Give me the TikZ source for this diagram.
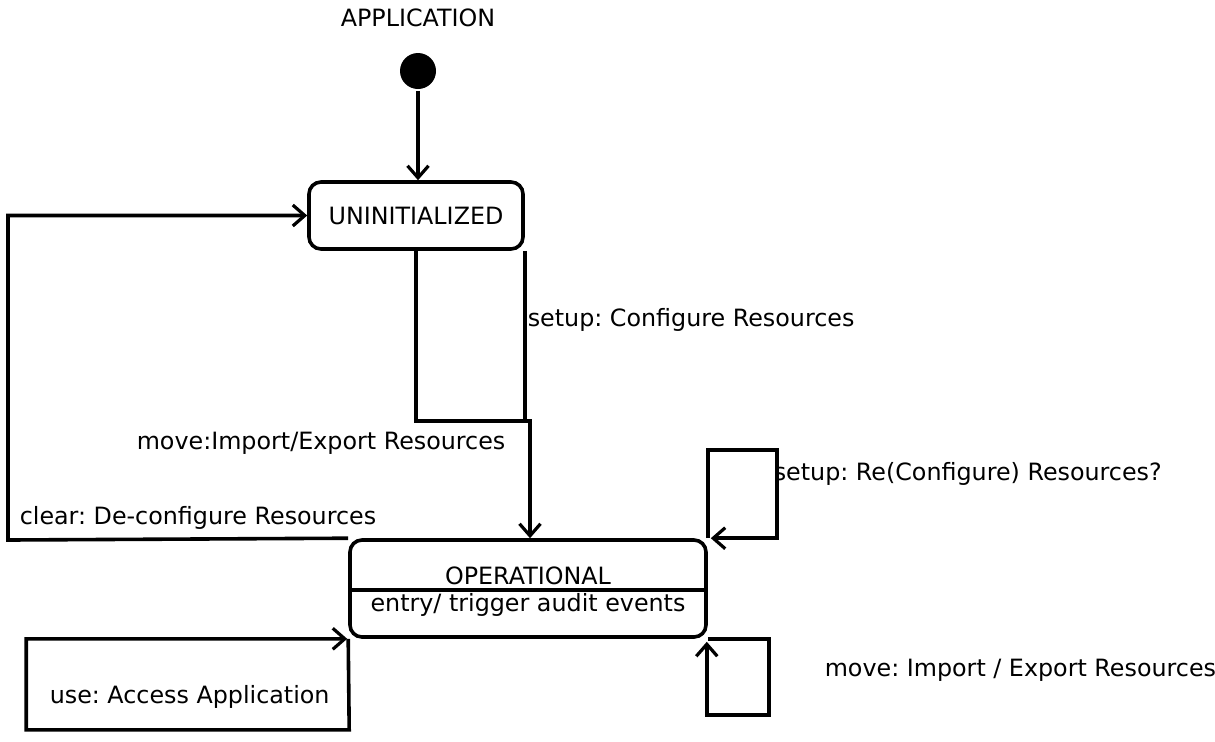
\documentclass[tikz,border=0pt]{standalone}
\usepackage{fontspec}
\setmainfont{DejaVu Sans}
\usetikzlibrary{arrows.meta,calc}
\frenchspacing
\begin{document}
\begin{tikzpicture}[x=0.5pt,y=-0.5pt,
  line width=1.8pt,
  every node/.style={font=\fontsize{11.9}{14}\selectfont},
  statebox/.style={draw, rounded corners=6pt, inner sep=0pt},
  lbl/.style={inner sep=0pt, anchor=west},
  arr/.style={-{Straight Barb[length=6pt,width=10.5pt,line width=1.6pt]}}]
\useasboundingbox (0,0) rectangle (1215,741);
% title and initial state
\node (title) at (418,18) {APPLICATION};
\node (init) [circle, fill=black, minimum size=18pt, inner sep=0pt] at (418,71) {};
% states
\node (uninit) [statebox, minimum width=107pt, minimum height=33.5pt] at (416,215.5) {UNINITIALIZED};
\node (oper) [statebox, minimum width=178pt, minimum height=48.5pt] at (528,588.5) {};
\node (opname) at (528,576) {OPERATIONAL};
\node (opentry) at (528,605) {entry/ trigger audit events};
\draw (oper.west |- 0,590) -- (oper.east |- 0,590);
% initial transition
\draw[arr] (init.south) -- (init.south |- uninit.north);
% setup / move transitions
\coordinate (j) at (530,421);
\draw[arr] (uninit.south) |- (j) -- (j |- oper.north);
\draw (uninit.south east) -- (uninit.south east |- j) -- (j);
\node[lbl] (lsetup) at (526,320) {setup: Configure Resources};
\node[lbl] (lmove) at (135,443) {move:Import/Export Resources};
% clear transition
\draw[arr] (oper.north west) -- (8,540) |- (uninit.west);
\node[lbl] (lclear) at (18,518) {clear: De-configure Resources};
% self loops
\draw[arr] (oper.north east) -- ++(0,-88) -- ++(69,0) -- ++(0,88) -- ($(oper.north east)+(3,0)$);
\node[lbl] (lresetup) at (772,474) {setup: Re(Configure) Resources?};
\draw[arr] (oper.south east) -- ++(61,0) -- ++(0,76) -- ++(-62,0) -- ($(oper.south east)+(-1,3)$);
\node[lbl] (lremove) at (823,670) {move: Import / Export Resources};
\draw[arr] (oper.south west) -- ++(1,91) -- ++(-323,0) -- ++(0,-91) -- ($(oper.south west)+(-1,0)$);
\node[lbl] (luse) at (48,697) {use: Access Application};
\end{tikzpicture}
\end{document}
